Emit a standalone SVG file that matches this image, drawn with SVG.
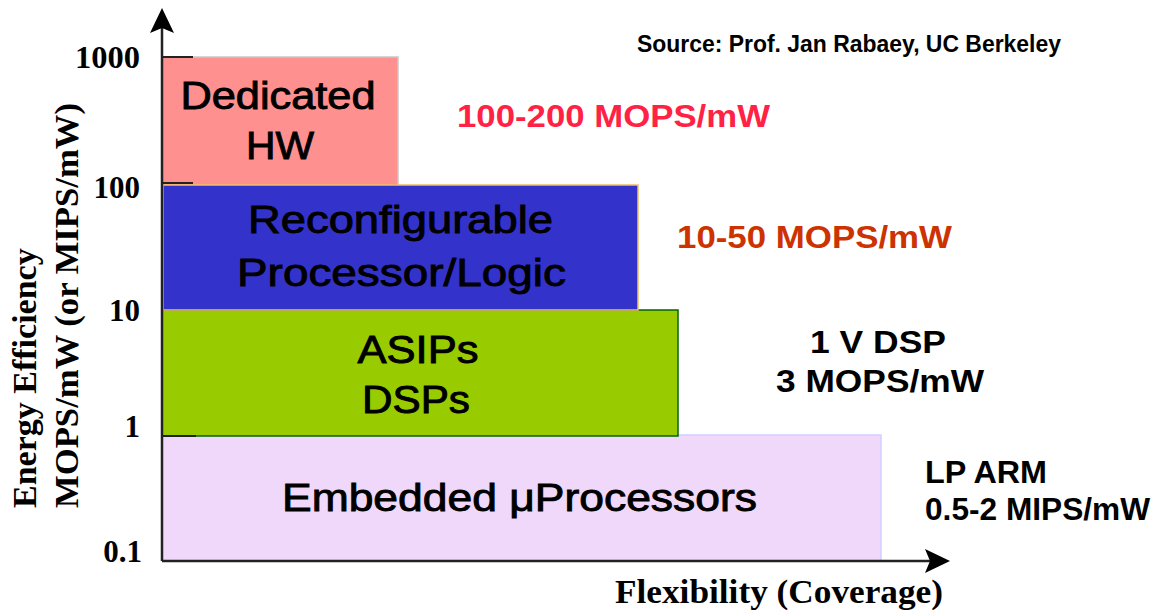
<svg xmlns="http://www.w3.org/2000/svg" width="1162" height="614" viewBox="0 0 1162 614">
<style>
.box{font-family:"Liberation Sans",Arial,sans-serif;font-size:38px;fill:#000;stroke:#000;stroke-width:0.9px;text-anchor:middle}
.lab{font-family:"Liberation Sans",Arial,sans-serif;font-size:31px;font-weight:bold}
.tick{font-family:"Liberation Serif","Times New Roman",serif;font-size:31px;font-weight:bold;text-anchor:end}
.ttl{font-family:"Liberation Serif","Times New Roman",serif;font-size:34px;font-weight:bold}
</style>
<rect width="1162" height="614" fill="#fff"/>
<g id="embedded">
<rect x="162" y="435" width="719" height="126" fill="#F0D8FA" stroke="#D0D0FF" stroke-width="1.5"/>
<text class="box" x="519.5" y="511" textLength="475" lengthAdjust="spacingAndGlyphs">Embedded μProcessors</text>
</g>
<g id="asips">
<rect x="162" y="310" width="516" height="126" fill="#99CC00" stroke="#006600" stroke-width="1.5"/>
<text class="box" x="418" y="363" textLength="121" lengthAdjust="spacingAndGlyphs">ASIPs</text>
<text class="box" x="416" y="413" textLength="108" lengthAdjust="spacingAndGlyphs">DSPs</text>
</g>
<g id="dedicated">
<rect x="162" y="57" width="236" height="130" fill="#FF9090" stroke="#C8C8C8" stroke-width="1.5"/>
<text class="box" x="278" y="109" textLength="195" lengthAdjust="spacingAndGlyphs">Dedicated</text>
<text class="box" x="280" y="159" textLength="68" lengthAdjust="spacingAndGlyphs">HW</text>
</g>
<g id="reconfigurable">
<rect x="163" y="185" width="475" height="125" fill="#3333CC" stroke="#F0C060" stroke-width="1.5"/>
<text class="box" x="400.5" y="233" textLength="305" lengthAdjust="spacingAndGlyphs">Reconfigurable</text>
<text class="box" x="401.5" y="286" textLength="329" lengthAdjust="spacingAndGlyphs">Processor/Logic</text>
</g>
<g id="axes">
<line x1="162" y1="561" x2="162" y2="28" stroke="#222" stroke-width="2.5"/>
<path d="M162 8 L174 33 L162 28 L150 33 Z" fill="#000"/>
<line x1="162" y1="561" x2="930" y2="561" stroke="#222" stroke-width="2.5"/>
<path d="M950 561 L925 549 L930 561 L925 573 Z" fill="#000"/>
<line x1="162" y1="57" x2="193" y2="57" stroke="#222" stroke-width="2"/>
<line x1="162" y1="183" x2="193" y2="183" stroke="#222" stroke-width="2"/>
<line x1="162" y1="436" x2="196" y2="436" stroke="#222" stroke-width="2"/>
<text class="tick" x="140" y="68" textLength="65" lengthAdjust="spacingAndGlyphs">1000</text>
<text class="tick" x="140" y="198">100</text>
<text class="tick" x="140" y="321">10</text>
<text class="tick" x="140" y="437">1</text>
<text class="tick" x="142" y="562">0.1</text>
<text class="ttl" transform="translate(36,508) rotate(-90)">Energy Efficiency</text>
<text class="ttl" transform="translate(78,508) rotate(-90)" textLength="405" lengthAdjust="spacingAndGlyphs">MOPS/mW (or MIPS/mW)</text>
<text class="ttl" x="615" y="603" textLength="328" lengthAdjust="spacingAndGlyphs">Flexibility (Coverage)</text>
</g>
<g id="labels">
<text x="637" y="52" font-family="'Liberation Sans Narrow','Liberation Sans',Arial,sans-serif" font-size="23" font-weight="bold" textLength="424" lengthAdjust="spacingAndGlyphs">Source: Prof. Jan Rabaey, UC Berkeley</text>
<text class="lab" x="457" y="127" fill="#FF2244" textLength="313" lengthAdjust="spacingAndGlyphs">100-200 MOPS/mW</text>
<text class="lab" x="677" y="248" fill="#CC3300" textLength="275" lengthAdjust="spacingAndGlyphs">10-50 MOPS/mW</text>
<text class="lab" x="878" y="353" text-anchor="middle" textLength="136" lengthAdjust="spacingAndGlyphs">1 V DSP</text>
<text class="lab" x="880" y="392" text-anchor="middle" textLength="208" lengthAdjust="spacingAndGlyphs">3 MOPS/mW</text>
<text class="lab" x="925" y="483" textLength="122" lengthAdjust="spacingAndGlyphs">LP ARM</text>
<text class="lab" x="925" y="520" textLength="225" lengthAdjust="spacingAndGlyphs">0.5-2 MIPS/mW</text>
</g>
</svg>
